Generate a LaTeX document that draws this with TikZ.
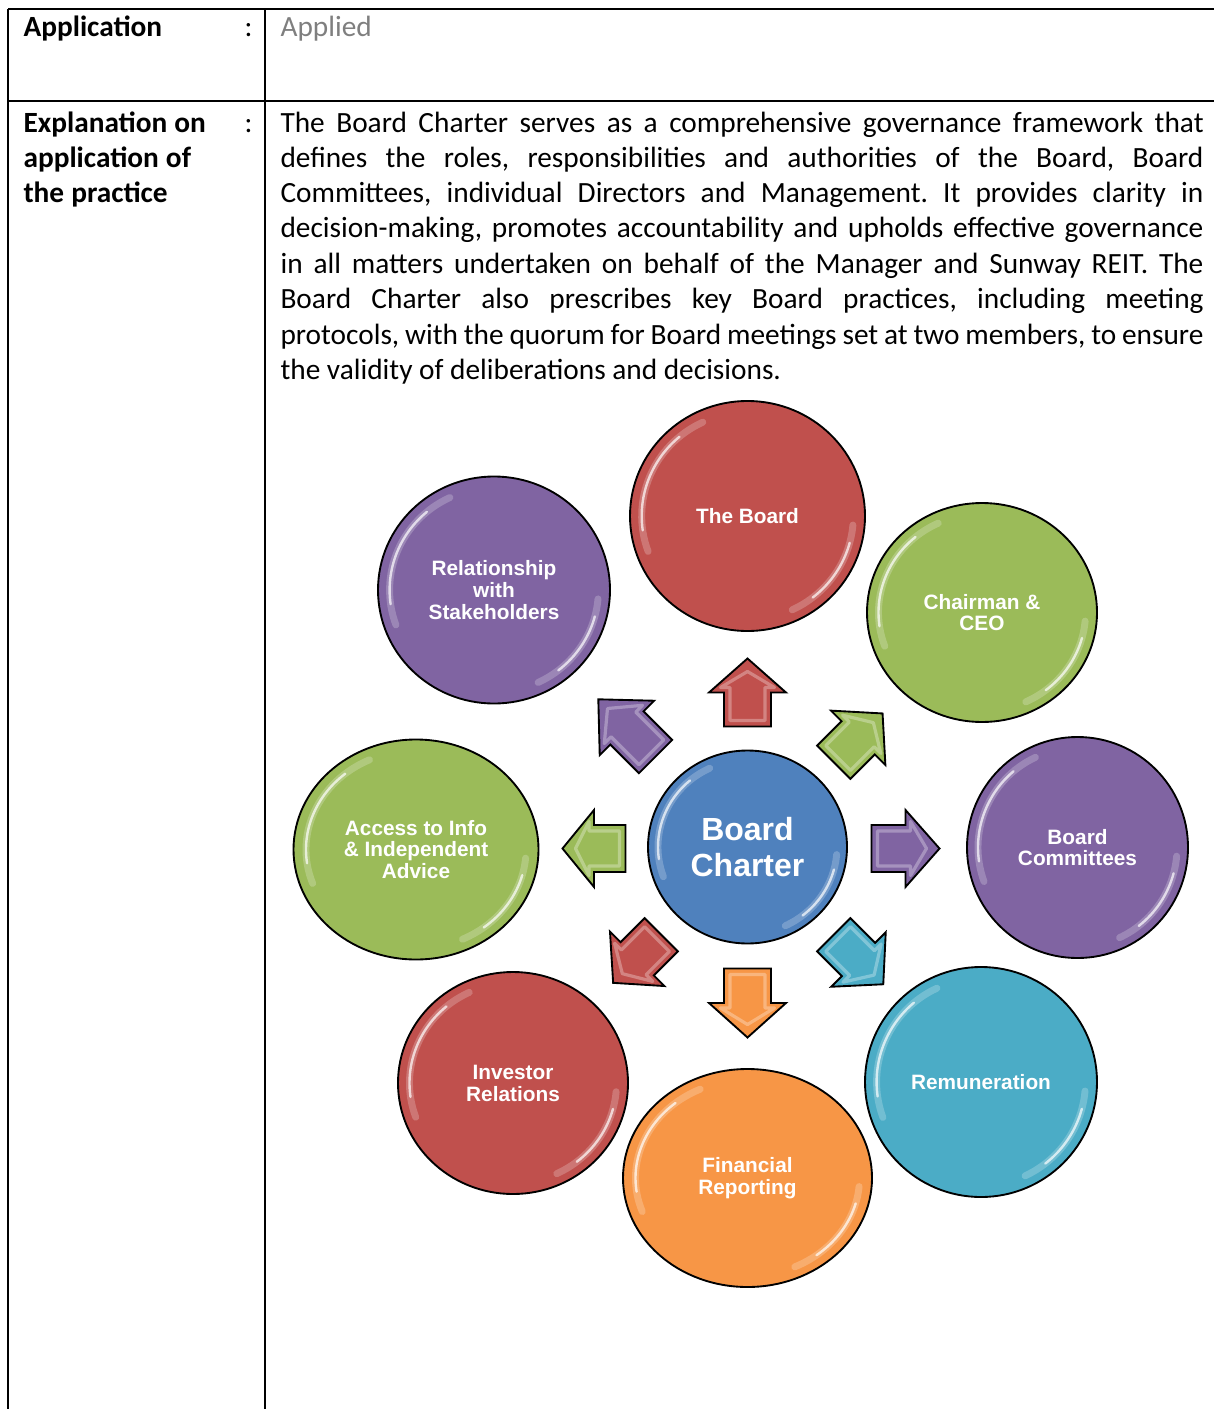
\documentclass[tikz,border=0pt]{standalone}
\usepackage{fontspec}
\setmainfont{Carlito}
\newfontfamily\labelfont{Liberation Sans}
\usepackage{tikz}
\usetikzlibrary{shapes.geometric}

\definecolor{boardred}{RGB}{192,80,77}
\definecolor{boardgreen}{RGB}{155,187,89}
\definecolor{boardpurple}{RGB}{128,100,162}
\definecolor{boardcyan}{RGB}{75,172,198}
\definecolor{boardorange}{RGB}{247,150,70}
\definecolor{boardblue}{RGB}{79,129,189}
\definecolor{appliedgrey}{RGB}{127,127,127}

\tikzset{
  rule/.style={line width=0.75pt},
  cell/.style={anchor=base west, inner sep=0pt},
  bubble/.style={ellipse, draw=black, line width=0.7pt, fill=#1, text=white,
    align=center, inner sep=0pt,
    font=\labelfont\bfseries\fontsize{7.8}{8.2}\selectfont},
  bubblesize/.style 2 args={minimum width=#1*0.375pt, minimum height=#2*0.375pt},
  gloss/.style={white, line width=2.6pt, opacity=0.22, line cap=round},
  shine/.style={white, line width=0.9pt, opacity=0.7, line cap=round},
  spoke/.style={draw=black, line width=0.7pt, fill=#1, line join=miter},
  bevel/.style={white, line width=1.2pt, opacity=0.3, line join=round},
}

% one justified line of the table text
\newcommand{\fullline}[1]{\hbox to \hsize{\spaceskip=0.226em plus 1em minus 0.11em #1}}

% light rim on a bubble: centre, x radius, y radius
\newcommand{\rimshine}[3]{%
  \draw[gloss] (#1) ++(160:#2 and #3) arc[start angle=160, end angle=245, x radius=#2, y radius=#3];
  \draw[shine] (#1) ++(172:#2 and #3) arc[start angle=172, end angle=230, x radius=#2, y radius=#3];
  \draw[gloss] (#1) ++(5:#2 and #3) arc[start angle=5, end angle=65, x radius=#2, y radius=#3];
  \draw[shine] (#1) ++(15:#2 and #3) arc[start angle=15, end angle=52, x radius=#2, y radius=#3];}

% block arrow out of the charter: angle, colour, back, tip
\newcommand{\spokearrow}[4]{%
  \begin{scope}[shift={(747.5,848.5)}, rotate=#1]
    \pgfmathsetmacro{\headbase}{(#3+#4)/2}
    \draw[spoke=#2] (#3,-23.5) -- (\headbase,-23.5) -- (\headbase,-38.5) -- (#4,0)
      -- (\headbase,38.5) -- (\headbase,23.5) -- (#3,23.5) -- cycle;
    \draw[bevel] (#3+6,-17.5) -- (\headbase+5,-17.5) -- (\headbase+5,-27) -- (#4-13,0)
      -- (\headbase+5,27) -- (\headbase+5,17.5) -- (#3+6,17.5) -- cycle;
  \end{scope}}

\begin{document}
\fontsize{11}{13.25}\selectfont\frenchspacing
\begin{tikzpicture}[x=0.375pt,y=0.375pt,yscale=-1,xscale=1]
\useasboundingbox (0,0) rectangle (1214,1409);

%Table rules
\draw[rule] (8,9) -- (1214,9);
\draw[rule] (8,101) -- (1214,101);
\draw[rule] (8,9) -- (8,1409);
\draw[rule] (265,9) -- (265,1409);

% Text Node
\node (apphead) [cell, font=\bfseries] at (23,37) {Application};
\node (appcolon) [cell] at (244,37) {:};
\node (appvalue) [cell, text=appliedgrey] at (280,37) {Applied};

% Text Node
\node (explhead) [cell, font=\bfseries, text width=110pt, align=left] at (23,132)
  {\spaceskip=0.24em Explanation on\\application of\\the practice};
\node (explcolon) [cell] at (244,132) {:};
\node (expltext) [cell, text width=346.1pt] at (280,132) {%
\fullline{The Board Charter serves as a comprehensive governance framework that}
\fullline{defines the roles, responsibilities and authorities of the Board, Board}
\fullline{Committees, individual Directors and Management. It provides clarity in}
\fullline{decision-making, promotes accountability and upholds effective governance}
\fullline{in all matters undertaken on behalf of the Manager and Sunway REIT. The}
\fullline{Board Charter also prescribes key Board practices, including meeting}
\fullline{protocols, with the quorum for Board meetings set at two members, to ensure}
\hbox{\spaceskip=0.226em the validity of deliberations and decisions.}};

%Shape: Ellipse
\node (board) [bubble=boardred, bubblesize={235}{230}] at (747.5,516) {The Board};
\node (chair) [bubble=boardgreen, bubblesize={230}{219}] at (982,612.5) {Chairman \&\\CEO};
\node (committees) [bubble=boardpurple, bubblesize={221}{221}] at (1077.5,847.5) {Board\\Committees};
\node (remun) [bubble=boardcyan, bubblesize={232}{230}] at (981,1082) {Remuneration};
\node (finrep) [bubble=boardorange, bubblesize={249}{218}] at (747.5,1178) {Financial\\Reporting};
\node (investor) [bubble=boardred, bubblesize={230}{222}] at (513,1083) {Investor\\Relations};
\node (access) [bubble=boardgreen, bubblesize={245}{220}] at (416,849.5) {Access to Info\\\& Independent\\Advice};
\node (stake) [bubble=boardpurple, bubblesize={232}{227}] at (494,590) {Relationship\\with\\Stakeholders};
\node (charter) [bubble=boardblue, bubblesize={199}{193},
  font=\labelfont\bfseries\fontsize{12}{13.4}\selectfont] at (747.5,847) {Board\\Charter};

\rimshine{board.center}{105.8}{103.5}
\rimshine{chair.center}{103.5}{98.6}
\rimshine{committees.center}{99.5}{99.5}
\rimshine{remun.center}{104.4}{103.5}
\rimshine{finrep.center}{112}{98}
\rimshine{investor.center}{103.5}{100}
\rimshine{access.center}{110}{99}
\rimshine{stake.center}{104.4}{102}
\rimshine{charter.center}{89.5}{86.9}

%Block arrows
\spokearrow{-90}{boardred}{122}{190}
\spokearrow{-45}{boardgreen}{122}{191}
\spokearrow{0}{boardpurple}{124}{192}
\spokearrow{45}{boardcyan}{122}{192}
\spokearrow{90}{boardorange}{120}{189}
\spokearrow{135}{boardred}{122}{190}
\spokearrow{180}{boardgreen}{122}{185}
\spokearrow{225}{boardpurple}{130}{211}

\end{tikzpicture}
\end{document}
